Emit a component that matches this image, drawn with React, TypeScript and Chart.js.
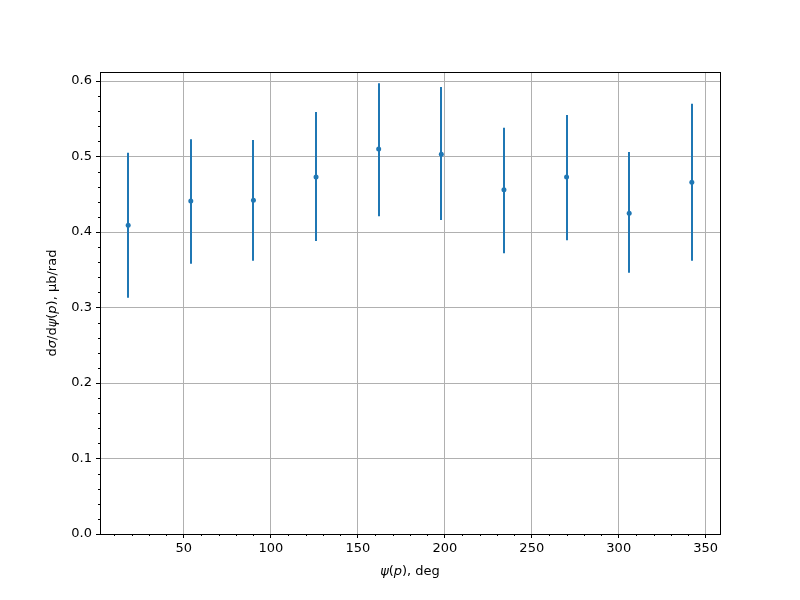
import React, { useEffect, useRef } from "react";
import { Chart, registerables } from "chart.js";
Chart.register(...registerables);

const psiDeg = [18, 54, 90, 126, 162, 198, 234, 270, 306, 342];
const xsec = [0.409, 0.441, 0.442, 0.473, 0.51, 0.503, 0.456, 0.473, 0.425, 0.466];
const xsecLow = [0.313, 0.358, 0.362, 0.388, 0.421, 0.416, 0.372, 0.389, 0.346, 0.362];
const xsecHigh = [0.505, 0.523, 0.522, 0.559, 0.597, 0.592, 0.538, 0.555, 0.506, 0.57];
const xTicks = [50, 100, 150, 200, 250, 300, 350];
const yTicks = [0, 0.1, 0.2, 0.3, 0.4, 0.5, 0.6];
const xMinorTicks = [10, 20, 30, 40, 60, 70, 80, 90, 110, 120, 130, 140, 160, 170, 180, 190, 210, 220, 230, 240, 260, 270, 280, 290, 310, 320, 330, 340];
const yMinorTicks = [0.02, 0.04, 0.06, 0.08, 0.12, 0.14, 0.16, 0.18, 0.22, 0.24, 0.26, 0.28, 0.32, 0.34, 0.36, 0.38, 0.42, 0.44, 0.46, 0.48, 0.52, 0.54, 0.56, 0.58];

const BLUE = "#1f77b4";
const FONT = "'DejaVu Sans', sans-serif";

type Seg = { t: string; i: boolean };
const yTitle: Seg[] = [
  { t: "d", i: false },
  { t: "σ", i: true },
  { t: "/d", i: false },
  { t: "ψ", i: true },
  { t: "(", i: false },
  { t: "p", i: true },
  { t: "), μb/rad", i: false },
];
const xTitle: Seg[] = [
  { t: "ψ", i: true },
  { t: "(", i: false },
  { t: "p", i: true },
  { t: "), deg", i: false },
];

function drawSegs(ctx: CanvasRenderingContext2D, segs: Seg[], size: number) {
  const fonts = segs.map((s) => `${s.i ? "italic " : ""}${size}px ${FONT}`);
  let total = 0;
  const widths = segs.map((s, k) => {
    ctx.font = fonts[k];
    const w = ctx.measureText(s.t).width;
    total += w;
    return w;
  });
  let x = -total / 2;
  ctx.textBaseline = "middle";
  ctx.textAlign = "left";
  segs.forEach((s, k) => {
    ctx.font = fonts[k];
    ctx.fillText(s.t, x, 0);
    x += widths[k];
  });
}

const extras = {
  id: "extras",
  beforeDatasetsDraw(chart: any) {
    const ctx = chart.ctx;
    const xs = chart.scales.x;
    const ys = chart.scales.y;
    ctx.save();
    ctx.strokeStyle = BLUE;
    ctx.lineWidth = 2;
    psiDeg.forEach((v, k) => {
      const px = Math.round(xs.getPixelForValue(v)) ;
      ctx.beginPath();
      ctx.moveTo(px, ys.getPixelForValue(xsecLow[k]));
      ctx.lineTo(px, ys.getPixelForValue(xsecHigh[k]));
      ctx.stroke();
    });
    ctx.restore();
  },
  afterDraw(chart: any) {
    const ctx = chart.ctx;
    const a = chart.chartArea;
    const xs = chart.scales.x;
    const ys = chart.scales.y;
    ctx.save();
    ctx.strokeStyle = "#000";
    ctx.lineWidth = 1;
    ctx.beginPath();
    xMinorTicks.forEach((v) => {
      const px = Math.round(xs.getPixelForValue(v)) + 0.5;
      ctx.moveTo(px, a.bottom);
      ctx.lineTo(px, a.bottom + 2);
    });
    yMinorTicks.forEach((v) => {
      const py = Math.round(ys.getPixelForValue(v)) + 0.5;
      ctx.moveTo(a.left, py);
      ctx.lineTo(a.left - 2, py);
    });
    ctx.stroke();
    ctx.strokeRect(Math.round(a.left) + 0.5, Math.round(a.top) + 0.5, Math.round(a.right - a.left), Math.round(a.bottom - a.top));
    ctx.fillStyle = "#000";
    ctx.save();
    ctx.translate((a.left + a.right) / 2, 572);
    drawSegs(ctx, xTitle, 13);
    ctx.restore();
    ctx.save();
    ctx.translate(53, (a.top + a.bottom) / 2);
    ctx.rotate(-Math.PI / 2);
    drawSegs(ctx, yTitle, 13);
    ctx.restore();
    ctx.restore();
  },
};

export default function App() {
  const ref = useRef<HTMLCanvasElement>(null);
  useEffect(() => {
    const chart = new Chart(ref.current!, {
      type: "scatter",
      data: {
        datasets: [
          {
            data: psiDeg.map((x, k) => ({ x, y: xsec[k] })),
            backgroundColor: BLUE,
            borderColor: BLUE,
            pointRadius: 2.5,
            borderWidth: 0,
          },
        ],
      },
      options: {
        animation: false,
        responsive: false,
        layout: { padding: { left: 0, top: 72, right: 80, bottom: 0 } },
        plugins: { legend: { display: false }, tooltip: { enabled: false } },
        scales: {
          x: {
            type: "linear",
            min: 1.8,
            max: 358.2,
            afterBuildTicks: (s: any) => {
              s.ticks = xTicks.map((v) => ({ value: v }));
            },
            afterFit: (s: any) => {
              s.height = 66;
            },
            grid: { color: "#b0b0b0", lineWidth: 1, tickLength: 4, tickColor: "#000", drawTicks: true },
            border: { display: false },
            ticks: { color: "#000", font: { family: FONT, size: 13 }, padding: 3, maxRotation: 0, autoSkip: false },
          },
          y: {
            type: "linear",
            min: 0,
            max: 0.612,
            afterBuildTicks: (s: any) => {
              s.ticks = yTicks.map((v) => ({ value: v }));
            },
            afterFit: (s: any) => {
              s.width = 100;
            },
            grid: { color: "#b0b0b0", lineWidth: 1, tickLength: 4, tickColor: "#000", drawTicks: true },
            border: { display: false },
            ticks: {
              color: "#000",
              font: { family: FONT, size: 13 },
              padding: 4,
              autoSkip: false,
              callback: (v: any) => Number(v).toFixed(1),
            },
          },
        },
      },
      plugins: [extras],
    });
    return () => chart.destroy();
  }, []);
  return (
    <div style={{ position: "fixed", left: 0, top: 0, width: 800, height: 600, background: "#fff" }}>
      <canvas ref={ref} width={800} height={600} style={{ width: 800, height: 600 }} />
    </div>
  );
}
